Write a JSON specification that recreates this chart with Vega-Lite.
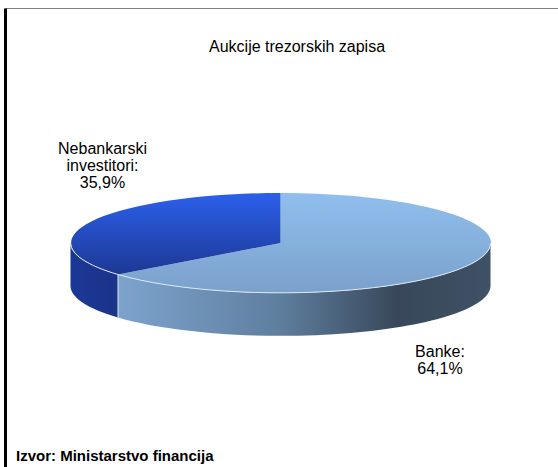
{
"$schema":"https://vega.github.io/schema/vega-lite/v6.json",
"width":553,"height":459,
"padding":{"left":5,"top":8,"right":0,"bottom":0},
"autosize":{"type":"none"},
"background":"white",
"title":{"text":"Aukcije trezorskih zapisa","anchor":"start","dx":204,"offset":-63,"fontSize":16,"font":"Liberation Sans","fontWeight":"normal","color":"black","baseline":"bottom"},
"config":{"view":{"stroke":null},"text":{"font":"Liberation Sans"}},
"data":{"values":[
{"investor":"Banke","share":64.1,"label":"Banke:\n64,1%"},
{"investor":"Nebankarski investitori","share":35.9,"label":"Nebankarski\ninvestitori:\n35,9%"}
]},
"encoding":{
"x":{"datum":0.5,"type":"quantitative","scale":{"domain":[0,1]},"axis":{"orient":"top","title":null,"ticks":false,"labels":false,"grid":false,"domain":true,"domainColor":"#808080","domainWidth":1}},
"y":{"datum":0.5,"type":"quantitative","scale":{"domain":[0,1]},"axis":{"orient":"left","title":null,"ticks":false,"labels":false,"grid":false,"domain":true,"domainColor":"#000000","domainWidth":3}}
},
"resolve":{"scale":{"shape":"independent"}},
"layer":[
{"transform":[{"filter":"datum.investor === 'Nebankarski investitori'"}],
 "mark":{"type":"point","filled":true,"opacity":1,"size":4,"fill":{"x1":0,"y1":0,"x2":1,"y2":0,"gradient":"linear","stops":[{"offset":0,"color":"#1B3797"},{"offset":1,"color":"#1B3388"}]}},
 "encoding":{"shape":{"field":"investor","legend":null,"scale":{"domain":["Nebankarski investitori"],"range":["M -211 5.5 A 210 50 0 0 0 -163.5 37 L -163.5 80 A 210 50 0 0 1 -211 48.5 Z"]}}}},
{"transform":[{"filter":"datum.investor === 'Banke'"}],
 "mark":{"type":"point","filled":true,"opacity":1,"size":4,"fill":{"x1":0,"y1":0,"x2":1,"y2":0,"gradient":"linear","stops":[{"offset":0,"color":"#7DA3CD"},{"offset":0.43,"color":"#5F7F9F"},{"offset":0.75,"color":"#38485A"},{"offset":1,"color":"#3F5165"}]}},
 "encoding":{"shape":{"field":"investor","legend":null,"scale":{"domain":["Banke"],"range":["M -163.5 37 A 210 50 0 0 0 209 5.5 L 209 48.5 A 210 50 0 0 1 -163.5 80 Z"]}}}},
{"transform":[{"filter":"datum.investor === 'Banke'"}],
 "mark":{"type":"point","filled":true,"opacity":1,"size":4,"fill":{"x1":0,"y1":0,"x2":0,"y2":1,"gradient":"linear","stops":[{"offset":0,"color":"#90BEEE"},{"offset":1,"color":"#7BA1CB"}]}},
 "encoding":{"shape":{"field":"investor","legend":null,"scale":{"domain":["Banke"],"range":["M -1 5.5 L -1 -44.5 A 210 50 0 1 1 -163.5 37 Z"]}}}},
{"transform":[{"filter":"datum.investor === 'Nebankarski investitori'"}],
 "mark":{"type":"point","filled":true,"opacity":1,"size":4,"fill":{"x1":0,"y1":0,"x2":0,"y2":1,"gradient":"linear","stops":[{"offset":0,"color":"#2C60EC"},{"offset":1,"color":"#1D3894"}]}},
 "encoding":{"shape":{"field":"investor","legend":null,"scale":{"domain":["Nebankarski investitori"],"range":["M -1 5.5 L -163.5 37 A 210 50 0 0 1 -1 -44.5 Z"]}}}},
{"mark":{"type":"point","filled":false,"opacity":1,"size":4,"stroke":"#DCE8F2","strokeWidth":1},
 "encoding":{"shape":{"field":"investor","legend":null,"scale":{"domain":["Banke","Nebankarski investitori"],"range":["M -163.5 80 L -163.5 37 A 210 50 0 0 0 209 5.5","M -211 5.5 A 210 50 0 0 0 -163.5 37"]}}}},
{"transform":[{"filter":"datum.investor === 'Banke'"}],
 "mark":{"type":"text","fontSize":16,"align":"center","baseline":"top","lineBreak":"\n","lineHeight":17,"color":"black","dx":158.5,"dy":106},
 "encoding":{"text":{"field":"label"}}},
{"transform":[{"filter":"datum.investor === 'Nebankarski investitori'"}],
 "mark":{"type":"text","fontSize":16,"align":"center","baseline":"top","lineBreak":"\n","lineHeight":17,"color":"black","dx":-179,"dy":-97},
 "encoding":{"text":{"field":"label"}}},
{"data":{"values":[{"source":"Izvor: Ministarstvo financija"}]},
 "mark":{"type":"text","fontSize":15,"fontWeight":"bold","align":"left","baseline":"middle","color":"black","dx":-265.5,"dy":218},
 "encoding":{"text":{"field":"source"}}}
]
}
